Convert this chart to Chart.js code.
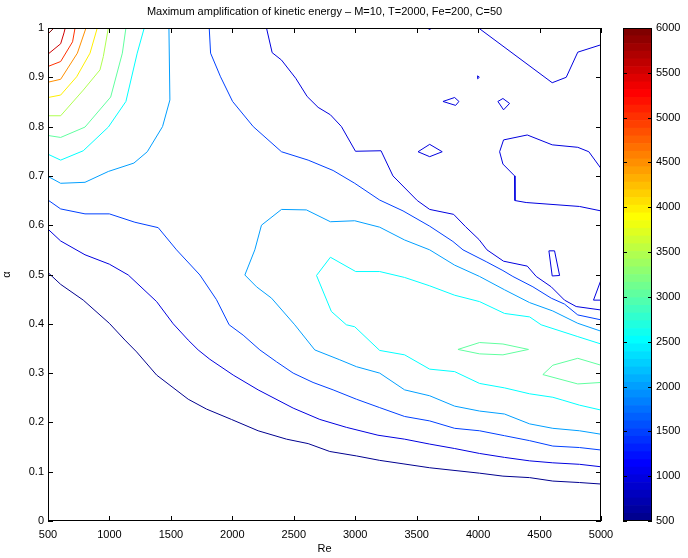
<!DOCTYPE html>
<html>
<head>
<meta charset="utf-8">
<script src="https://cdn.jsdelivr.net/npm/chart.js@4.4.1/dist/chart.umd.min.js"></script>
<style>
html,body{margin:0;padding:0;background:#fff;}
#wrap{position:relative;width:688px;height:558px;overflow:hidden;}
#main{position:absolute;left:0;top:0;}
#cbar{position:absolute;left:610px;top:0;}
</style>
</head>
<body>
<div id="wrap">
<canvas id="main" width="688" height="558"></canvas>
<canvas id="cbar" width="78" height="558"></canvas>
</div>
<script>
// ---- tick labels / ranges ----
const reTicks = [500,1000,1500,2000,2500,3000,3500,4000,4500,5000];
const alphaTicks = [0,0.1,0.2,0.3,0.4,0.5,0.6,0.7,0.8,0.9,1];
const colorbarTicks = [500,1000,1500,2000,2500,3000,3500,4000,4500,5000,5500,6000];
const levels = [500,1000,1500,2000,2500,3000,3500,4000,4500,5000,5500,6000];

// ---- contour lines [Re, alpha] ----
const c500 = [[500,0.504],[603,0.480],[787,0.448],[999,0.401],[1126,0.367],[1221,0.343],[1384,0.296],[1641,0.247],[1790,0.227],[1993,0.206],[2210,0.183],[2441,0.166],[2617,0.157],[2793,0.141],[3010,0.132],[3199,0.123],[3389,0.116],[3606,0.108],[4012,0.097],[4202,0.091],[4419,0.088],[4608,0.081],[4825,0.078],[5000,0.075]];
const c1000a = [[500,0.592],[603,0.568],[801,0.540],[999,0.521],[1153,0.499],[1384,0.445],[1519,0.400],[1641,0.367],[1722,0.347],[1817,0.328],[2007,0.296],[2210,0.266],[2495,0.229],[2712,0.206],[2928,0.190],[3185,0.174],[3402,0.166],[3606,0.156],[3809,0.147],[4012,0.137],[4215,0.129],[4419,0.122],[4608,0.118],[4825,0.115],[5000,0.110]];
const c1000b = [[2278,1.0],[2324,0.950],[2400,0.935],[2516,0.898],[2609,0.861],[2698,0.839],[2798,0.824],[2888,0.800],[3002,0.750],[3210,0.751],[3307,0.700],[3505,0.650],[3606,0.632],[3801,0.622],[3898,0.597],[4007,0.571],[4072,0.550],[4207,0.527],[4400,0.517],[4473,0.496],[4595,0.475],[4703,0.448],[4798,0.435],[5000,0.428]];
const c1000c = [[4004,1.0],[4603,0.889],[4717,0.900],[4811,0.951],[5000,0.966]];
const c1000d = [[3592,1.0],[3605,0.996],[3618,1.0]];
const c1000e = [[3996,0.903],[4010,0.900],[3996,0.897],[3996,0.903]];
const c1000f = [[3714,0.851],[3809,0.859],[3844,0.851],[3817,0.843],[3714,0.851]];
const c1000g = [[4161,0.851],[4202,0.857],[4256,0.847],[4207,0.834],[4161,0.851]];
const c1000h = [[3511,0.749],[3606,0.764],[3708,0.749],[3606,0.739],[3511,0.749]];
const c1000i = [[5000,0.715],[4901,0.749],[4811,0.758],[4603,0.763],[4400,0.783],[4207,0.773],[4175,0.749],[4202,0.724],[4297,0.700],[4300,0.650],[4391,0.646],[4825,0.638],[5000,0.629]];
const c1000j = [[4576,0.548],[4622,0.548],[4663,0.498],[4603,0.497],[4576,0.548]];
const c1000k = [[5000,0.489],[4939,0.448],[5000,0.448]];
const c1500a = [[500,0.651],[603,0.633],[801,0.623],[999,0.623],[1207,0.606],[1397,0.595],[1546,0.550],[1736,0.499],[1871,0.449],[1974,0.398],[2088,0.377],[2224,0.347],[2359,0.323],[2495,0.300],[2657,0.281],[2820,0.266],[3010,0.247],[3199,0.230],[3402,0.212],[3606,0.203],[3809,0.188],[4012,0.183],[4215,0.173],[4419,0.163],[4608,0.152],[4825,0.149],[5000,0.144]];
const c1500b = [[1812,1.0],[1823,0.949],[1904,0.901],[2002,0.851],[2170,0.800],[2400,0.749],[2617,0.732],[2820,0.711],[2996,0.685],[3199,0.651],[3389,0.629],[3606,0.598],[3795,0.567],[3877,0.550],[4066,0.526],[4202,0.508],[4283,0.496],[4446,0.475],[4595,0.452],[4703,0.440],[4811,0.418],[5000,0.408]];
const c2000a = [[500,0.699],[603,0.685],[801,0.687],[991,0.709],[1199,0.726],[1308,0.749],[1432,0.800],[1492,0.854],[1484,1.0]];
const c2000b = [[5000,0.385],[4811,0.401],[4608,0.426],[4419,0.443],[4215,0.469],[4012,0.496],[3809,0.519],[3606,0.550],[3402,0.570],[3199,0.596],[2996,0.609],[2798,0.607],[2603,0.631],[2400,0.632],[2237,0.600],[2183,0.550],[2102,0.499],[2197,0.475],[2319,0.452],[2508,0.398],[2671,0.347],[2874,0.327],[3010,0.313],[3199,0.300],[3402,0.266],[3606,0.254],[3809,0.233],[4012,0.223],[4215,0.217],[4419,0.197],[4608,0.188],[4825,0.183],[5000,0.176]];
const c2500a = [[1283,1.0],[1226,0.949],[1134,0.851],[991,0.799],[787,0.751],[603,0.732],[500,0.744]];
const c2500b = [[5000,0.359],[4811,0.374],[4513,0.398],[4419,0.414],[4215,0.421],[4012,0.445],[3809,0.458],[3606,0.477],[3402,0.494],[3199,0.506],[3004,0.506],[2798,0.535],[2685,0.498],[2806,0.425],[2928,0.398],[2996,0.394],[3199,0.346],[3402,0.337],[3606,0.308],[3809,0.303],[4012,0.279],[4215,0.270],[4419,0.258],[4608,0.251],[4690,0.245],[4825,0.235],[5000,0.225]];
const c3000a = [[1134,1.0],[1105,0.949],[1010,0.860],[801,0.799],[603,0.778],[500,0.782]];
const c3000b = [[3836,0.348],[4012,0.362],[4202,0.359],[4410,0.348],[4202,0.337],[4012,0.339],[3836,0.348]];
const c3000c = [[5000,0.316],[4811,0.330],[4608,0.316],[4527,0.297],[4811,0.278],[5000,0.281]];
const c3500 = [[991,1.0],[950,0.942],[923,0.915],[787,0.874],[603,0.822],[500,0.822]];
const c4000 = [[901,1.0],[842,0.949],[733,0.901],[603,0.864],[500,0.859]];
const c4500 = [[809,1.0],[739,0.949],[603,0.896],[500,0.890]];
const c5000 = [[720,1.0],[700,0.972],[603,0.932],[500,0.922]];
const c5500 = [[640,1.0],[630,0.990],[603,0.968],[500,0.947]];
const c6000 = [[500,0.988],[548,1.0]];

const contourSet = [
  [500, c500],
  [1000, c1000a],[1000, c1000b],[1000, c1000c],[1000, c1000d],[1000, c1000e],[1000, c1000f],
  [1000, c1000g],[1000, c1000h],[1000, c1000i],[1000, c1000j],[1000, c1000k],
  [1500, c1500a],[1500, c1500b],
  [2000, c2000a],[2000, c2000b],
  [2500, c2500a],[2500, c2500b],
  [3000, c3000a],[3000, c3000b],[3000, c3000c],
  [3500, c3500],[4000, c4000],[4500, c4500],[5000, c5000],[5500, c5500],[6000, c6000]
];

// MATLAB-like jet(64)
function jet64(i){
  let r,g,b;
  if(i<=8){r=0;g=0;b=0.5+i/16;}
  else if(i<=24){r=0;g=(i-8)/16;b=1;}
  else if(i<=40){r=(i-24)/16;g=1;b=1-(i-24)/16;}
  else if(i<=56){r=1;g=1-(i-40)/16;b=0;}
  else {r=1-(i-56)/16;g=0;b=0;}
  return 'rgb('+Math.round(r*255)+','+Math.round(g*255)+','+Math.round(b*255)+')';
}
const cMin = colorbarTicks[0], cMax = colorbarTicks[colorbarTicks.length-1];
function levelColor(v){
  const i = Math.min(64, Math.floor((v-cMin)/(cMax-cMin)*64)+1);
  return jet64(i);
}

Chart.defaults.font.family = "'Liberation Sans', Arial, Helvetica, sans-serif";
Chart.defaults.font.size = 11;
Chart.defaults.color = '#000';

function boxTicksPlugin(len, xs){
  return {
    id:'boxTicks',
    afterDraw(chart){
      const {ctx, chartArea:a, scales} = chart;
      ctx.save();
      ctx.strokeStyle = '#000';
      ctx.lineWidth = 1;
      ctx.beginPath();
      if (xs && scales.x) {
        scales.x.ticks.forEach(t=>{
          const px = Math.round(scales.x.getPixelForValue(t.value))+0.5;
          ctx.moveTo(px,a.bottom); ctx.lineTo(px,a.bottom-len);
          ctx.moveTo(px,a.top); ctx.lineTo(px,a.top+len);
        });
      }
      scales.y.ticks.forEach(t=>{
        const py = Math.round(scales.y.getPixelForValue(t.value))+0.5;
        ctx.moveTo(a.left,py); ctx.lineTo(a.left+len,py);
        ctx.moveTo(a.right,py); ctx.lineTo(a.right-len,py);
      });
      ctx.stroke();
      ctx.strokeRect(a.left+0.5, a.top+0.5, a.right-a.left-1, a.bottom-a.top-1);
      ctx.restore();
    }
  };
}

const datasets = contourSet.map(([lev, pts])=>({
  data: pts.map(p=>({x:p[0], y:p[1]})),
  showLine: true,
  borderColor: levelColor(lev),
  backgroundColor: levelColor(lev),
  borderWidth: 1,
  pointRadius: 0,
  pointHoverRadius: 0,
  tension: 0,
  fill: false
}));

new Chart(document.getElementById('main'), {
  type: 'scatter',
  data: { datasets },
  options: {
    responsive: false,
    animation: false,
    devicePixelRatio: 1,
    layout: { padding: { left: 0, top: 0, right: 87, bottom: 0 } },
    plugins: {
      legend: { display: false },
      tooltip: { enabled: false },
      title: {
        display: true,
        fullSize: false,
        text: 'Maximum amplification of kinetic energy \u2013 M=10, T=2000, Fe=200, C=50',
        font: { size: 11, weight: 'normal', lineHeight: 1.2 },
        color: '#000',
        padding: { top: 5, bottom: 9.8 }
      }
    },
    scales: {
      x: {
        type: 'linear',
        min: reTicks[0], max: reTicks[reTicks.length-1],
        afterBuildTicks: s => { s.ticks = reTicks.map(v=>({value:v})); },
        afterFit: s => { s.height = 37; },
        grid: { display: false, drawTicks: false },
        border: { display: false },
        ticks: { padding: 7, maxRotation: 0, callback: v => String(v) },
        title: { display: true, text: 'Re', font: { size: 11 }, padding: { top: 0, bottom: 2 } }
      },
      y: {
        type: 'linear',
        min: 0, max: 1,
        afterBuildTicks: s => { s.ticks = alphaTicks.map(v=>({value:v})); },
        afterFit: s => { s.width = 48; },
        grid: { display: false, drawTicks: false },
        border: { display: false },
        ticks: { padding: 4, callback: v => String(Math.round(v*10)/10) },
        title: { display: true, text: '\u03b1', font: { size: 11 }, padding: { top: 0, bottom: 0 } }
      }
    }
  },
  plugins: [boxTicksPlugin(5, true)]
});

// ---- colorbar (64 stacked jet segments) ----
const nSteps = 64;
const stepH = (cMax - cMin)/nSteps;
const cbDatasets = [];
for (let i=1;i<=nSteps;i++){
  cbDatasets.push({
    data: [i===1 ? cMin + stepH : stepH],
    backgroundColor: jet64(i),
    borderColor: jet64(i),
    borderWidth: 0,
    barPercentage: 1,
    categoryPercentage: 1
  });
}
new Chart(document.getElementById('cbar'), {
  type: 'bar',
  data: { labels: [''], datasets: cbDatasets },
  options: {
    responsive: false,
    animation: false,
    devicePixelRatio: 1,
    layout: { padding: { left: 13, top: 28, right: 0, bottom: 37 } },
    plugins: { legend: { display: false }, tooltip: { enabled: false } },
    scales: {
      x: { display: false, stacked: true },
      y: {
        stacked: true,
        position: 'right',
        min: cMin, max: cMax,
        afterBuildTicks: s => { s.ticks = colorbarTicks.map(v=>({value:v})); },
        afterFit: s => { s.width = 36; },
        grid: { display: false, drawTicks: false },
        border: { display: false },
        ticks: { padding: 4, callback: v => String(v) }
      }
    }
  },
  plugins: [boxTicksPlugin(4, false)]
});
</script>
</body>
</html>
